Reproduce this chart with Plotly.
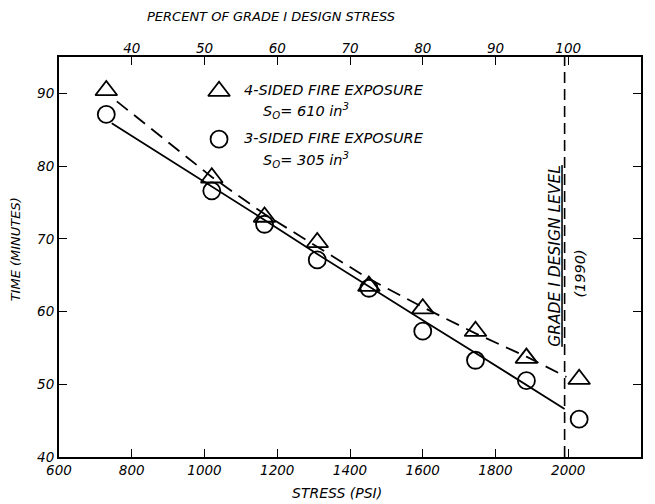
import plotly.graph_objects as go

# Data
stress = [730, 1020, 1165, 1310, 1452, 1600, 1745, 1885, 2030]
time_4sided = [90.4, 78.4, 73.0, 69.5, 63.5, 60.4, 57.3, 53.6, 50.7]
time_3sided = [87.1, 76.6, 72.0, 67.1, 63.2, 57.3, 53.3, 50.5, 45.2]

# Fitted curves
fit4_x = [759, 1020, 1165, 1310, 1452, 1600, 1745, 1885, 1995]
fit4_y = [88.9, 78.5, 73.4, 68.9, 64.5, 60.6, 57.0, 53.8, 51.0]
fit3_x = [745, 1020, 1165, 1310, 1452, 1600, 1745, 1885, 1990]
fit3_y = [85.9, 77.2, 72.6, 67.9, 63.5, 58.8, 54.3, 49.9, 46.6]

design_level = 1990
x_ticks = [600, 800, 1000, 1200, 1400, 1600, 1800, 2000, 2200]
y_ticks = [40, 50, 60, 70, 80, 90]
pct_ticks = [40, 50, 60, 70, 80, 90, 100]

FONT = "DejaVu Sans"
ink = "black"
f_tick = dict(family=FONT, size=13.5, color=ink, style="italic")
f_lab = dict(family=FONT, size=13, color=ink, style="italic")
f_xt = dict(family=FONT, size=14, color=ink, style="italic")
f_leg = dict(family=FONT, size=14.5, color=ink, style="italic")
f_grade = dict(family=FONT, size=15.5, color=ink, style="italic")

tri = dict(symbol="triangle-up-open", size=19, color=ink, line=dict(width=1.8, color=ink))
cir = dict(symbol="circle-open", size=17, color=ink, line=dict(width=1.8, color=ink))

fig = go.Figure()
fig.add_trace(go.Scatter(x=fit4_x, y=fit4_y, mode="lines",
                         line=dict(color=ink, width=1.8, dash="14px,8px"), showlegend=False))
fig.add_trace(go.Scatter(x=fit3_x, y=fit3_y, mode="lines",
                         line=dict(color=ink, width=1.8), showlegend=False))
fig.add_trace(go.Scatter(x=stress, y=time_4sided, mode="markers", marker=tri, showlegend=False))
fig.add_trace(go.Scatter(x=stress, y=time_3sided, mode="markers", marker=cir, showlegend=False))
# invisible trace for top axis
fig.add_trace(go.Scatter(x=[pct_ticks[0]], y=[40], xaxis="x2", mode="markers",
                         marker=dict(opacity=0), showlegend=False, hoverinfo="skip"))

# legend inside the plot
fig.add_trace(go.Scatter(x=[1040], y=[90.3], mode="markers", marker=tri, showlegend=False))
fig.add_trace(go.Scatter(x=[1040], y=[83.7], mode="markers", marker=cir, showlegend=False))

ann = [
    dict(x=1104, y=90.4, text="4-SIDED FIRE EXPOSURE"),
    dict(x=1156, y=87.6, text="S<sub>O</sub>= 610 in<sup>3</sup>"),
    dict(x=1104, y=83.8, text="3-SIDED FIRE EXPOSURE"),
    dict(x=1156, y=80.9, text="S<sub>O</sub>= 305 in<sup>3</sup>"),
]
for a in ann:
    fig.add_annotation(xref="x", yref="y", showarrow=False, xanchor="left",
                       yanchor="middle", font=f_leg, **a)
fig.add_annotation(xref="x", yref="y", x=1965, y=67.6, text="<u>GRADE I DESIGN LEVEL</u>",
                   textangle=-90, showarrow=False, font=f_grade)
fig.add_annotation(xref="x", yref="y", x=2032, y=65.2, text="(1990)",
                   textangle=-90, showarrow=False, font=f_leg)

# axis titles
fig.add_annotation(xref="paper", yref="paper", x=0.478, y=-0.09, text="STRESS (PSI)",
                   showarrow=False, font=f_xt, xanchor="center", yanchor="middle")
fig.add_annotation(xref="paper", yref="paper", x=0.365, y=1.10,
                   text="PERCENT OF GRADE I DESIGN STRESS",
                   showarrow=False, font=f_lab, xanchor="center", yanchor="middle")
fig.add_annotation(xref="paper", yref="paper", x=-0.075, y=0.52, text="TIME (MINUTES)",
                   textangle=-90, showarrow=False, font=f_lab, xanchor="center",
                   yanchor="middle")

fig.add_shape(type="line", xref="x", yref="paper", x0=design_level, x1=design_level,
              y0=0, y1=1, line=dict(color=ink, width=1.6, dash="11px,6px"))

fig.update_layout(
    width=655, height=504,
    margin=dict(l=59, r=12, t=57, b=47),
    paper_bgcolor="white", plot_bgcolor="white",
    font=dict(family=FONT, color=ink),
    xaxis=dict(range=[600, 2200], tickvals=x_ticks, ticks="inside", ticklen=8,
               tickwidth=1.3, tickcolor=ink, showline=True, linecolor=ink, linewidth=2,
               mirror=True, showgrid=False, zeroline=False, tickfont=f_tick),
    xaxis2=dict(range=[30, 110], tickvals=pct_ticks, overlaying="x", side="top",
                ticks="inside", ticklen=8, tickwidth=1.3, tickcolor=ink, showline=False,
                showgrid=False, zeroline=False, tickfont=f_tick),
    yaxis=dict(range=[40, 95], tickvals=y_ticks, ticks="inside", ticklen=8,
               tickwidth=1.3, tickcolor=ink, showline=True, linecolor=ink, linewidth=2,
               mirror="ticks", showgrid=False, zeroline=False, tickfont=f_tick),
)

fig.write_html("out.html", config={"displayModeBar": False},
               post_script="document.body.style.margin='0';document.body.style.overflow='hidden';")
